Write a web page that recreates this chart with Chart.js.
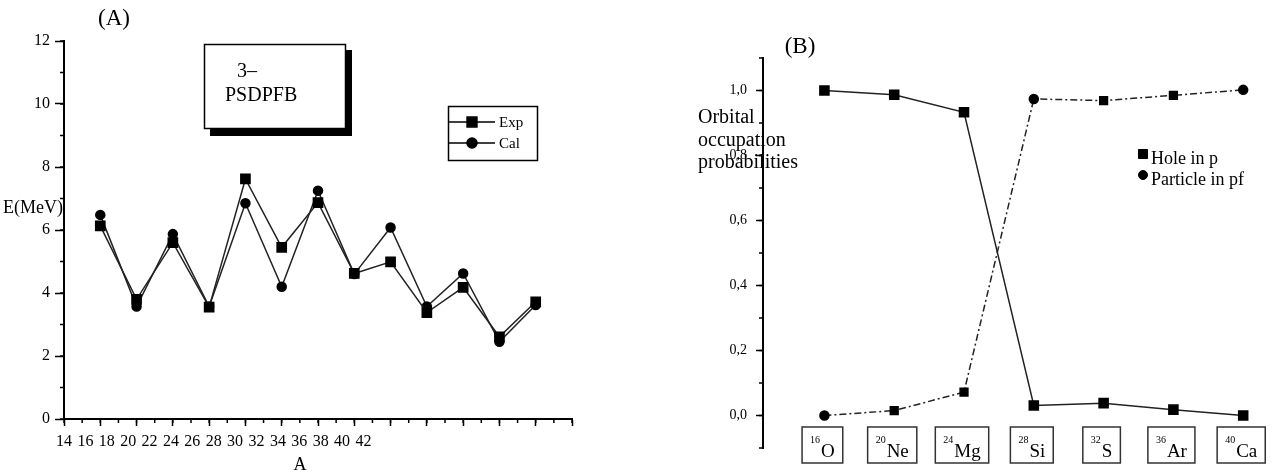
<!DOCTYPE html>
<html>
<head>
<meta charset="utf-8">
<script src="https://cdn.jsdelivr.net/npm/chart.js@4.4.1/dist/chart.umd.min.js"></script>
<style>
  html, body { margin: 0; padding: 0; background: #fff; }
  #wrap { position: relative; width: 1276px; height: 474px; }
  #chartA { position: absolute; left: 0; top: 0; }
  #chartB { position: absolute; left: 640px; top: 0; }
</style>
</head>
<body>
<div id="wrap">
  <canvas id="chartA" width="640" height="474"></canvas>
  <canvas id="chartB" width="636" height="474"></canvas>
</div>
<script>
// (A) 3- energies: points sit on the long ticks of the A axis
const aPositions = [1, 2, 3, 4, 5, 6, 7, 8, 9, 10, 11, 12, 13];
const expEnergy = [6.13, 3.80, 5.60, 3.55, 7.62, 5.45, 6.87, 4.62, 4.99, 3.38, 4.18, 2.61, 3.72];
const calEnergy = [6.48, 3.57, 5.87, 3.57, 6.85, 4.20, 7.25, 4.60, 6.08, 3.57, 4.62, 2.45, 3.62];
const aTickLabels = [14, 16, 18, 20, 22, 24, 26, 28, 30, 32, 34, 36, 38, 40, 42];

// (B) orbital occupation probabilities
const nuclei = ['O', 'Ne', 'Mg', 'Si', 'S', 'Ar', 'Ca'];
const massNumbers = [16, 20, 24, 28, 32, 36, 40];
const holeInP = [1.0, 0.987, 0.933, 0.031, 0.038, 0.018, 0.0];
const particleInPf = [0.0, 0.015, 0.072, 0.974, 0.969, 0.985, 1.002];

const serif = "'Liberation Serif', 'Times New Roman', serif";
Chart.defaults.font.family = serif;
Chart.defaults.color = '#000';

// short ticks between the labelled ones
function minorTicks(list) {
  return {
    id: 'minorTicks',
    afterDraw(chart) {
      const ctx = chart.ctx;
      ctx.save();
      ctx.strokeStyle = '#000';
      ctx.lineWidth = 1.5;
      list.forEach(m => {
        const s = chart.scales[m.scale];
        for (let v = m.from; v <= m.to + 1e-9; v += m.step) {
          const p = s.getPixelForValue(v);
          ctx.beginPath();
          if (s.isHorizontal()) {
            ctx.moveTo(p, s.top);
            ctx.lineTo(p, s.top + m.len);
          } else {
            ctx.moveTo(s.right, p);
            ctx.lineTo(s.right - m.len, p);
          }
          ctx.stroke();
        }
      });
      ctx.restore();
    }
  };
}

function marker(ctx, style, r, x, y) {
  ctx.fillStyle = '#000';
  ctx.strokeStyle = '#000';
  Chart.helpers.drawPoint(ctx, { pointStyle: style, radius: r, rotation: 0, borderWidth: 1 }, x, y);
}

const panelA = {
  id: 'panelA',
  afterDraw(chart) {
    const ctx = chart.ctx;
    ctx.save();
    ctx.fillStyle = '#000';
    ctx.font = '23px ' + serif;
    ctx.textAlign = 'center';
    ctx.fillText('(A)', 114, 25);

    // label box with drop shadow
    ctx.fillRect(210, 50, 142, 86);
    ctx.fillStyle = '#fff';
    ctx.fillRect(204, 44, 142, 85);
    ctx.strokeStyle = '#000';
    ctx.lineWidth = 1.5;
    ctx.strokeRect(204.5, 44.5, 141, 84);
    ctx.fillStyle = '#000';
    ctx.font = '20px ' + serif;
    ctx.textAlign = 'left';
    ctx.fillText('3\u2013', 237, 77);
    ctx.fillText('PSDPFB', 225, 101);

    // legend
    ctx.lineWidth = 1.5;
    ctx.strokeRect(448.5, 106.5, 89, 54);
    ctx.font = '15px ' + serif;
    chart.data.datasets.forEach((ds, i) => {
      const y = 122 + i * 21;
      ctx.beginPath();
      ctx.moveTo(449, y);
      ctx.lineTo(495, y);
      ctx.stroke();
      marker(ctx, ds.pointStyle, ds.pointStyle === 'rect' ? 7 : 5, 472, y);
      ctx.fillStyle = '#000';
      ctx.fillText(ds.label, 499, y + 5);
    });

    ctx.font = '18px ' + serif;
    ctx.textAlign = 'right';
    ctx.fillText('E(MeV)', 63, 213);
    ctx.textAlign = 'center';
    ctx.fillText('A', 300, 470);
    ctx.restore();
  }
};

new Chart(document.getElementById('chartA'), {
  type: 'line',
  data: {
    datasets: [
      {
        label: 'Exp',
        data: aPositions.map((p, i) => ({ x: p, y: expEnergy[i] })),
        xAxisID: 'x',
        borderColor: '#222',
        borderWidth: 1.5,
        pointStyle: 'rect',
        pointRadius: 6.5,
        pointBackgroundColor: '#000',
        pointBorderColor: '#000',
        tension: 0
      },
      {
        label: 'Cal',
        data: aPositions.map((p, i) => ({ x: p, y: calEnergy[i] })),
        xAxisID: 'x',
        borderColor: '#222',
        borderWidth: 1.5,
        pointStyle: 'circle',
        pointRadius: 4.5,
        pointBackgroundColor: '#000',
        pointBorderColor: '#000',
        tension: 0
      }
    ]
  },
  options: {
    responsive: false,
    animation: false,
    layout: { padding: { top: 41, right: 68, left: 0, bottom: 0 }, autoPadding: false },
    plugins: { legend: { display: false }, tooltip: { enabled: false } },
    scales: {
      x: {
        type: 'linear',
        position: 'bottom',
        weight: 0,
        min: 0,
        max: 14,
        afterFit: s => { s.height = 8; },
        border: { width: 2, color: '#000' },
        grid: { drawOnChartArea: false, tickLength: 7, tickWidth: 1.5, tickColor: '#000' },
        ticks: { stepSize: 1, display: false }
      },
      xl: {
        type: 'linear',
        axis: 'x',
        position: 'bottom',
        weight: 1,
        min: 14,
        max: 61.5,
        afterFit: s => { s.height = 47; },
        border: { display: false },
        grid: { display: false, drawTicks: false },
        ticks: {
          stepSize: 2,
          autoSkip: false,
          maxRotation: 0,
          padding: 5,
          font: { size: 16 },
          callback: v => aTickLabels.includes(v) ? String(v) : ''
        }
      },
      y: {
        min: 0,
        max: 12,
        afterFit: s => { s.width = 64; },
        border: { width: 2, color: '#000' },
        grid: { drawOnChartArea: false, tickLength: 9, tickWidth: 1.5, tickColor: '#000' },
        ticks: { stepSize: 2, padding: 5, font: { size: 16 } }
      }
    }
  },
  plugins: [
    minorTicks([
      { scale: 'x', from: 0, to: 14, step: 0.5, len: 4 },
      { scale: 'y', from: 0, to: 12, step: 1, len: 4 }
    ]),
    panelA
  ]
});

const panelB = {
  id: 'panelB',
  afterDraw(chart) {
    const ctx = chart.ctx;
    const x = chart.scales.x;
    ctx.save();
    ctx.fillStyle = '#000';
    ctx.font = '23px ' + serif;
    ctx.textAlign = 'center';
    ctx.fillText('(B)', 160, 53);

    ctx.textAlign = 'left';
    ctx.font = '20px ' + serif;
    ['Orbital', 'occupation', 'probabilities'].forEach((t, i) => {
      ctx.fillText(t, 58, 123 + i * 22.5);
    });

    // legend
    ctx.font = '18px ' + serif;
    chart.data.datasets.forEach((ds, i) => {
      const y = 154 + i * 21;
      marker(ctx, i === 0 ? 'rect' : 'circle', i === 0 ? 6.4 : 4.5, 503, y);
      ctx.fillStyle = '#000';
      ctx.fillText(ds.label, 511, y + 10);
    });

    // nucleus labels in boxes
    ctx.strokeStyle = '#333';
    ctx.lineWidth = 1.5;
    nuclei.forEach((n, i) => {
      ctx.font = '10px ' + serif;
      const mw = ctx.measureText(String(massNumbers[i])).width;
      ctx.font = '19px ' + serif;
      const nw = ctx.measureText(n).width;
      const w = mw + nw + 17;
      const left = x.getPixelForValue(i) - 2 - w / 2;
      ctx.strokeRect(left, 427, w, 36);
      ctx.font = '10px ' + serif;
      ctx.fillText(String(massNumbers[i]), left + 8, 443);
      ctx.font = '19px ' + serif;
      ctx.fillText(n, left + 9 + mw, 457);
    });
    ctx.restore();
  }
};

new Chart(document.getElementById('chartB'), {
  type: 'line',
  data: {
    datasets: [
      {
        label: 'Hole in p',
        data: holeInP.map((v, i) => ({ x: i, y: v })),
        borderColor: '#222',
        borderWidth: 1.5,
        pointStyle: 'rect',
        pointRadius: 6.4,
        pointBackgroundColor: '#000',
        pointBorderColor: '#000',
        tension: 0
      },
      {
        label: 'Particle in pf',
        data: particleInPf.map((v, i) => ({ x: i, y: v })),
        borderColor: '#222',
        borderWidth: 1.5,
        borderDash: [7, 3, 2, 3],
        pointStyle: ['circle', 'rect', 'rect', 'circle', 'rect', 'rect', 'circle'],
        pointRadius: [4.5, 5.5, 5.5, 4.5, 5.5, 5.5, 4.5],
        pointBackgroundColor: '#000',
        pointBorderColor: '#000',
        tension: 0
      }
    ]
  },
  options: {
    responsive: false,
    animation: false,
    layout: { padding: { top: 58, right: 0, left: 0, bottom: 26 }, autoPadding: false },
    plugins: { legend: { display: false }, tooltip: { enabled: false } },
    scales: {
      x: { type: 'linear', display: false, min: -0.88, max: 6.47 },
      y: {
        min: -0.1,
        max: 1.1,
        afterFit: s => { s.width = 123; },
        border: { width: 2, color: '#000' },
        grid: {
          drawOnChartArea: false,
          tickLength: 7,
          tickWidth: 1.5,
          tickColor: c => (!c.tick || Math.round(c.tick.value * 10) % 2 === 0) ? '#000' : 'rgba(0,0,0,0)'
        },
        ticks: {
          stepSize: 0.1,
          autoSkip: false,
          padding: 9,
          font: { size: 14 },
          callback: v => {
            const k = Math.round(v * 10);
            return k % 2 === 0 ? (k / 10).toFixed(1).replace('.', ',') : '';
          }
        }
      }
    }
  },
  plugins: [
    minorTicks([{ scale: 'y', from: -0.1, to: 1.1, step: 0.1, len: 4 }]),
    panelB
  ]
});
</script>
</body>
</html>
